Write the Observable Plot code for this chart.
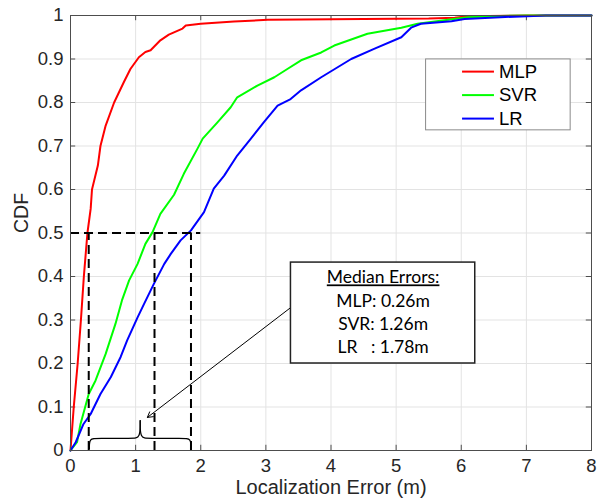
<!DOCTYPE html>
<html>
<head>
<meta charset="utf-8">
<script src="https://cdn.jsdelivr.net/npm/d3@7"></script>
<script src="https://cdn.jsdelivr.net/npm/@observablehq/plot@0.6"></script>
<style>
  body { margin: 0; background: #fff; }
  #chart svg { display: block; }
</style>
</head>
<body>
<div id="chart"></div>
<script>
// ---- Data ----
const seriesNames = ["MLP", "SVR", "LR"];
const seriesColors = ["#ff0000", "#00ff00", "#0000ff"];

const mlpX = [0, 0.05, 0.11, 0.16, 0.205, 0.26, 0.31, 0.33, 0.42, 0.46, 0.54, 0.67, 0.82, 0.92, 1.05, 1.15, 1.23, 1.38, 1.51, 1.72, 1.77, 2.0, 2.51, 3.03, 3.54, 4.5, 5.5, 5.9, 6.1, 7.0, 8.0];
const mlpY = [0, 0.1, 0.2, 0.3, 0.4, 0.5, 0.556, 0.60, 0.655, 0.70, 0.747, 0.80, 0.847, 0.877, 0.904, 0.916, 0.92, 0.943, 0.956, 0.97, 0.977, 0.981, 0.986, 0.99, 0.991, 0.992, 0.993, 0.995, 0.998, 1.0, 1.0];

const svrX = [0, 0.1, 0.154, 0.28, 0.385, 0.54, 0.69, 0.79, 0.9, 1.03, 1.15, 1.26, 1.38, 1.59, 1.74, 1.95, 2.03, 2.26, 2.46, 2.56, 2.87, 3.13, 3.33, 3.54, 3.85, 4.05, 4.56, 5.08, 5.33, 5.74, 6.1, 6.6, 7.0, 8.0];
const svrY = [0, 0.019, 0.061, 0.13, 0.161, 0.222, 0.291, 0.345, 0.391, 0.429, 0.475, 0.502, 0.544, 0.588, 0.636, 0.694, 0.717, 0.755, 0.789, 0.812, 0.839, 0.858, 0.877, 0.897, 0.915, 0.931, 0.958, 0.972, 0.981, 0.989, 0.996, 0.999, 1.0, 1.0];

const lrX = [0, 0.08, 0.2, 0.31, 0.46, 0.62, 0.77, 0.87, 1.03, 1.13, 1.28, 1.44, 1.54, 1.69, 1.85, 2.05, 2.2, 2.36, 2.56, 2.77, 2.97, 3.18, 3.38, 3.54, 3.85, 4.31, 4.67, 5.08, 5.23, 5.38, 5.85, 6.05, 6.6, 7.3, 8.0];
const lrY = [0, 0.019, 0.061, 0.084, 0.13, 0.169, 0.215, 0.253, 0.306, 0.337, 0.383, 0.429, 0.452, 0.483, 0.506, 0.548, 0.602, 0.632, 0.678, 0.717, 0.755, 0.793, 0.808, 0.828, 0.858, 0.9, 0.924, 0.95, 0.972, 0.981, 0.987, 0.992, 0.996, 1.0, 1.0];

const xTicks = [0, 1, 2, 3, 4, 5, 6, 7, 8];
const yTicks = [0, 0.1, 0.2, 0.3, 0.4, 0.5, 0.6, 0.7, 0.8, 0.9, 1];
const yTickLabels = ["0", "0.1", "0.2", "0.3", "0.4", "0.5", "0.6", "0.7", "0.8", "0.9", "1"];

const xLabel = "Localization Error (m)";
const yLabel = "CDF";

// median guide lines (as drawn in the figure) and annotation text
const medianLevel = 0.5;
const medianGuideX = [0.28, 1.29, 1.85];
const annotationLines = ["Median Errors:", "MLP: 0.26m", "SVR: 1.26m", "LR\u00a0\u00a0\u00a0: 1.78m"];

// ---- Build table ----
const xsAll = [mlpX, svrX, lrX];
const ysAll = [mlpY, svrY, lrY];
const data = seriesNames.flatMap((name, s) => xsAll[s].map((x, i) => ({name, x, y: ysAll[s][i]})));

// brace (curly bracket) control points, in data units
const braceLeft = [
  {x: 0.29, y: 0.004}, {x: 0.29, y: 0.004}, {x: 0.29, y: 0.004},
  {x: 0.29, y: 0.028}, {x: 0.40, y: 0.028}, {x: 0.96, y: 0.028},
  {x: 1.07, y: 0.028}, {x: 1.07, y: 0.069}, {x: 1.07, y: 0.069}, {x: 1.07, y: 0.069}
];
const braceRight = braceLeft.map(d => ({x: 1.07 + (1.07 - d.x) * (1.85 - 1.07) / (1.07 - 0.29), y: d.y}));

const axisColor = "#4d4d4d";
const gridColor = "#e3e3e3";

const chart = Plot.plot({
  width: 611,
  height: 504,
  marginLeft: 70,
  marginRight: 20,
  marginTop: 15,
  marginBottom: 54,
  style: {fontFamily: "'Liberation Sans', Arial, Helvetica, sans-serif", fontSize: "18.5px", color: "#262626", background: "#fff"},
  x: {domain: [0, 8], ticks: xTicks, tickSize: 0, tickPadding: 8, label: null},
  y: {domain: [0, 1], ticks: yTicks, tickSize: 0, tickPadding: 7, label: null,
      tickFormat: d => yTickLabels[Math.round(d * 10)]},
  color: {domain: seriesNames, range: seriesColors},
  marks: [
    // grid
    Plot.ruleX(xTicks, {x: d => d, stroke: gridColor, strokeWidth: 1}),
    Plot.ruleY(yTicks, {y: d => d, stroke: gridColor, strokeWidth: 1}),
    // inward ticks
    Plot.ruleX(xTicks, {x: d => d, y1: 0, y2: 0.012, stroke: axisColor}),
    Plot.ruleX(xTicks, {x: d => d, y1: 1, y2: 0.988, stroke: axisColor}),
    Plot.ruleY(yTicks, {y: d => d, x1: 0, x2: 0.08, stroke: axisColor}),
    Plot.ruleY(yTicks, {y: d => d, x1: 8, x2: 7.92, stroke: axisColor}),
    // curves
    Plot.line(data, {x: "x", y: "y", z: "name", stroke: "name", strokeWidth: 2}),
    // median dashed guides
    Plot.ruleY([medianLevel], {y: d => d, x1: 0, x2: 2.0, stroke: "black", strokeWidth: 2, strokeDasharray: "9,5"}),
    Plot.ruleX(medianGuideX, {x: d => d, y1: 0, y2: medianLevel, stroke: "black", strokeWidth: 2, strokeDasharray: "9,5"}),
    // brace
    Plot.line(braceLeft, {x: "x", y: "y", curve: "basis", stroke: "black", strokeWidth: 1.2}),
    Plot.line(braceRight, {x: "x", y: "y", curve: "basis", stroke: "black", strokeWidth: 1.2}),
    // arrow
    Plot.arrow([{x1: 3.385, y1: 0.329, x2: 1.18, y2: 0.076}], {x1: "x1", y1: "y1", x2: "x2", y2: "y2", stroke: "black", strokeWidth: 1, headLength: 9, bend: 0}),
    // annotation box
    Plot.rect([{x1: 3.385, x2: 6.215, y1: 0.2, y2: 0.432}], {x1: "x1", x2: "x2", y1: "y1", y2: "y2", fill: "white", stroke: "#222", strokeWidth: 1.5}),
    Plot.text(annotationLines, {x: 4.8, y: (d, i) => [0.397, 0.342, 0.289, 0.236][i], text: d => d,
      fontFamily: "Lato, 'Open Sans', sans-serif", fontSize: 17.5, fill: "black"}),
    // legend
    Plot.rect([{x1: 5.46, x2: 7.68, y1: 0.736, y2: 0.899}], {x1: "x1", x2: "x2", y1: "y1", y2: "y2", fill: "white", stroke: "#8a8a8a", strokeWidth: 1}),
    Plot.ruleY(seriesNames, {y: (d, i) => [0.871, 0.817, 0.763][i], x1: 6.02, x2: 6.51, stroke: d => d, strokeWidth: 2}),
    Plot.text(seriesNames, {x: 6.58, y: (d, i) => [0.871, 0.817, 0.763][i], text: d => d, textAnchor: "start", fontSize: 18.5, fill: "black"}),
    // frame
    Plot.frame({stroke: axisColor, strokeWidth: 1}),
    // axis titles
    Plot.text([xLabel], {frameAnchor: "bottom", dy: 43, text: d => d, fontSize: 20, fill: "#262626"}),
    Plot.text([yLabel], {frameAnchor: "left", dx: -49, rotate: -90, text: d => d, fontSize: 19.5, fill: "#262626"})
  ]
});

document.getElementById("chart").appendChild(chart);
// underline the annotation heading
d3.select(chart).selectAll("text").filter(function() { return this.textContent === "Median Errors:"; })
  .style("text-decoration", "underline");
</script>
</body>
</html>
